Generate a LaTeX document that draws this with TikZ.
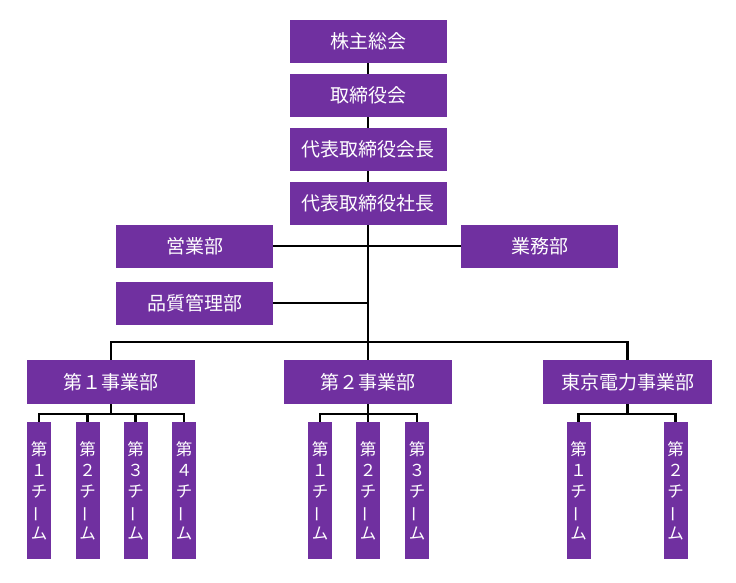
\documentclass[tikz,border=0pt]{standalone}
\usepackage{fontspec}
\newfontfamily\jpfont{Noto Sans CJK JP}
\usepackage{tikz}
\usetikzlibrary{positioning}
\definecolor{orgpurple}{RGB}{112,48,160}
\newcommand{\choon}{\rotatebox[origin=c]{90}{ー}}
\tikzset{purplebox/.style={rectangle, fill=orgpurple, text=white, minimum width=157pt, minimum height=43pt, inner sep=0pt, font=\jpfont\fontsize{19}{19}\selectfont},}
\tikzset{teambox/.style={rectangle, fill=orgpurple, text=white, minimum width=24pt, minimum height=137pt, inner sep=0pt, align=center, font=\jpfont\fontsize{16.5}{21}\selectfont},}
\tikzset{conn/.style={draw=black, line width=2.4pt},}

\begin{document}
\begin{tikzpicture}[x=1pt, y=-1pt, node distance=10.5pt]
\useasboundingbox (0,0) rectangle (736,582);
\node [purplebox] (gm) at (368,41.5) {株主総会};
\node [purplebox] (board) [below=of gm] {取締役会};
\node [purplebox] (chair) [below=of board] {代表取締役会長};
\node [purplebox] (pres) [below=of chair] {代表取締役社長};
\node [purplebox] (sales) at (194.5,246) {営業部};
\node [purplebox] (admin) at (539.5,246) {業務部};
\node [purplebox] (qa) at (194.5,303) {品質管理部};
\coordinate (bus) at (368,342);
\node [purplebox, minimum width=168pt, minimum height=44pt] (div1) at (111,382) {第１事業部};
\node [purplebox, minimum width=168pt, minimum height=44pt] (div2) at (368,382) {第２事業部};
\node [purplebox, minimum width=169pt, minimum height=44pt] (div3) at (627.5,382) {東京電力事業部};
\node [teambox] (t11) at (39,490.5) {第\\１\\チ\\\choon\\ム};
\node [teambox] (t12) at (87.5,490.5) {第\\２\\チ\\\choon\\ム};
\node [teambox] (t13) at (135.5,490.5) {第\\３\\チ\\\choon\\ム};
\node [teambox] (t14) at (184,490.5) {第\\４\\チ\\\choon\\ム};
\node [teambox] (t21) at (320,490.5) {第\\１\\チ\\\choon\\ム};
\node [teambox] (t22) at (368,490.5) {第\\２\\チ\\\choon\\ム};
\node [teambox] (t23) at (417,490.5) {第\\３\\チ\\\choon\\ム};
\node [teambox] (t31) at (578.5,490.5) {第\\１\\チ\\\choon\\ム};
\node [teambox] (t32) at (675.5,490.5) {第\\２\\チ\\\choon\\ム};
\draw[conn] (gm) -- (board);
\draw[conn] (board) -- (chair);
\draw[conn] (chair) -- (pres);
\draw[conn] (pres) -- (bus);
\draw[conn] (sales) -- (admin);
\draw[conn] (qa) -- (qa -| bus);
\draw[conn] (div1) |- (bus) -| (div3);
\draw[conn] (bus) -- (div2);
\foreach \t in {t11,t12,t13,t14}
  \draw[conn] (div1.south) -- ++(0,10) -| (\t);
\foreach \t in {t21,t22,t23}
  \draw[conn] (div2.south) -- ++(0,10) -| (\t);
\foreach \t in {t31,t32}
  \draw[conn] (div3.south) -- ++(0,10) -| (\t);
\end{tikzpicture}
\end{document}
